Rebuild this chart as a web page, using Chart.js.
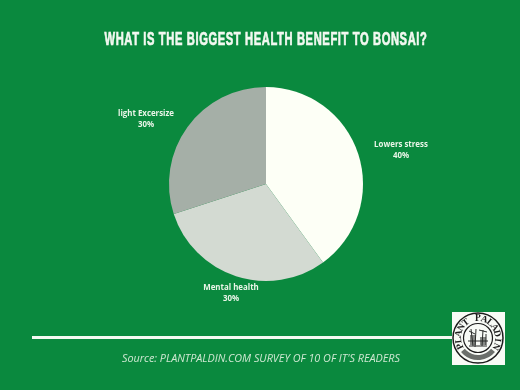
<!DOCTYPE html>
<html>
<head>
<meta charset="utf-8">
<style>
  html, body { margin: 0; padding: 0; background: #0a893e; }
  canvas { display: block; }
</style>
<script src="https://cdn.jsdelivr.net/npm/chart.js@4/dist/chart.umd.min.js"></script>
</head>
<body>
<canvas id="bonsaiChart" width="520" height="390"></canvas>
<script>
// Chart data
const categories = ["Lowers stress", "Mental health", "light Excersize"];
const shares = [40, 30, 30];
const sliceColors = ["#fdfff6", "#d3dad2", "#a5afa7"];

const titleText = "WHAT IS THE BIGGEST HEALTH BENEFIT TO BONSAI?";
const sourceText = "Source: PLANTPALDIN.COM SURVEY OF 10 OF IT'S READERS";

// Label centres relative to the pie centre
const labelOffsets = [[135, -37], [-35, 106], [-120, -68]];

// Background, title, rule and source line
const pagePlugin = {
  id: "page",
  beforeDraw(chart) {
    const ctx = chart.ctx;
    ctx.save();
    ctx.fillStyle = "#0a893e";
    ctx.fillRect(0, 0, chart.width, chart.height);

    // No narrow font installed, so squeeze the title sideways
    ctx.save();
    ctx.translate(266, 45);
    ctx.scale(0.62, 1);
    ctx.fillStyle = "#f2f8f0";
    ctx.strokeStyle = "#f2f8f0";
    ctx.lineWidth = 0.7;
    ctx.textAlign = "center";
    ctx.textBaseline = "alphabetic";
    ctx.font = "bold 18px 'Liberation Sans', sans-serif";
    ctx.letterSpacing = "1px";
    ctx.fillText(titleText, 0, 0);
    ctx.strokeText(titleText, 0, 0);
    ctx.restore();

    ctx.fillStyle = "#f4faf2";
    ctx.fillRect(32, 336, 421, 3);

    ctx.fillStyle = "#cfe8d2";
    ctx.textAlign = "center";
    ctx.font = "italic 10.8px 'Open Sans', sans-serif";
    ctx.fillText(sourceText, 261, 362);
    ctx.restore();
  },
};

// Category and percent text around the pie
const labelPlugin = {
  id: "sliceLabels",
  afterDatasetsDraw(chart) {
    const ctx = chart.ctx;
    const arcs = chart.getDatasetMeta(0).data;
    ctx.save();
    ctx.fillStyle = "#eaf5e8";
    ctx.textAlign = "center";
    ctx.font = "bold 7.9px 'Open Sans', sans-serif";
    arcs.forEach((arc, i) => {
      const x = arc.x + labelOffsets[i][0];
      const y = arc.y + labelOffsets[i][1];
      ctx.fillText(categories[i], x, y);
      ctx.fillText(shares[i] + "%", x, y + 11);
    });
    ctx.restore();
  },
};

// Round Plant Paladin badge in the bottom right corner
const badgePlugin = {
  id: "badge",
  afterDraw(chart) {
    const ctx = chart.ctx;
    const cx = 478;
    const cy = 338;
    ctx.save();
    ctx.fillStyle = "#f8fbf6";
    ctx.fillRect(452, 312, 53, 53);

    ctx.strokeStyle = "#1c1c1c";
    ctx.lineWidth = 1.5;
    ctx.beginPath();
    ctx.arc(cx, cy, 25, 0, Math.PI * 2);
    ctx.stroke();
    ctx.lineWidth = 1.2;
    ctx.beginPath();
    ctx.arc(cx, cy, 14.5, 0, Math.PI * 2);
    ctx.stroke();

    // Lettering that follows the ring
    const word = "PLANT PALADIN";
    ctx.fillStyle = "#1c1c1c";
    ctx.font = "bold 9.5px 'Liberation Serif', serif";
    ctx.textAlign = "center";
    ctx.textBaseline = "middle";
    const step = 0.335;
    for (let i = 0; i < word.length; i++) {
      const angle = (i - (word.length - 1) / 2) * step;
      ctx.save();
      ctx.translate(cx + Math.sin(angle) * 19.5, cy - Math.cos(angle) * 19.5);
      ctx.rotate(angle);
      ctx.fillText(word[i], 0, 0);
      ctx.restore();
    }

    // Grey band with small lettering along the bottom of the ring
    ctx.strokeStyle = "#6b6f6b";
    ctx.lineWidth = 5;
    ctx.beginPath();
    ctx.arc(cx, cy, 19.5, Math.PI * 0.22, Math.PI * 0.78);
    ctx.stroke();

    // Figure and tree in the middle of the seal
    ctx.strokeStyle = "#2a2d2a";
    ctx.lineWidth = 1;
    ctx.beginPath();
    ctx.moveTo(cx - 9, cy - 7); ctx.lineTo(cx - 3, cy - 4);
    ctx.moveTo(cx - 7, cy - 9); ctx.lineTo(cx - 5, cy + 8);
    ctx.moveTo(cx - 2, cy - 9); ctx.lineTo(cx - 3, cy + 9);
    ctx.moveTo(cx + 1, cy - 8); ctx.lineTo(cx + 9, cy - 6);
    ctx.moveTo(cx + 5, cy - 8); ctx.lineTo(cx + 4, cy + 8);
    ctx.moveTo(cx + 8, cy - 4); ctx.lineTo(cx + 8, cy + 7);
    ctx.moveTo(cx - 10, cy + 3); ctx.lineTo(cx + 10, cy + 3);
    ctx.moveTo(cx - 9, cy + 8); ctx.lineTo(cx + 9, cy + 8);
    ctx.stroke();
    ctx.fillStyle = "rgba(40,44,40,0.55)";
    ctx.fillRect(cx - 8, cy - 3, 6, 10);
    ctx.fillRect(cx + 2, cy - 1, 6, 8);
    ctx.restore();
  },
};

new Chart(document.getElementById("bonsaiChart"), {
  type: "pie",
  data: {
    labels: categories,
    datasets: [
      {
        data: shares,
        backgroundColor: sliceColors,
        borderWidth: 0,
      },
    ],
  },
  options: {
    responsive: false,
    animation: false,
    layout: {
      padding: { left: 169, right: 157, top: 87, bottom: 109 },
    },
    plugins: {
      legend: { display: false },
      tooltip: { enabled: false },
    },
  },
  plugins: [pagePlugin, labelPlugin, badgePlugin],
});
</script>
</body>
</html>
